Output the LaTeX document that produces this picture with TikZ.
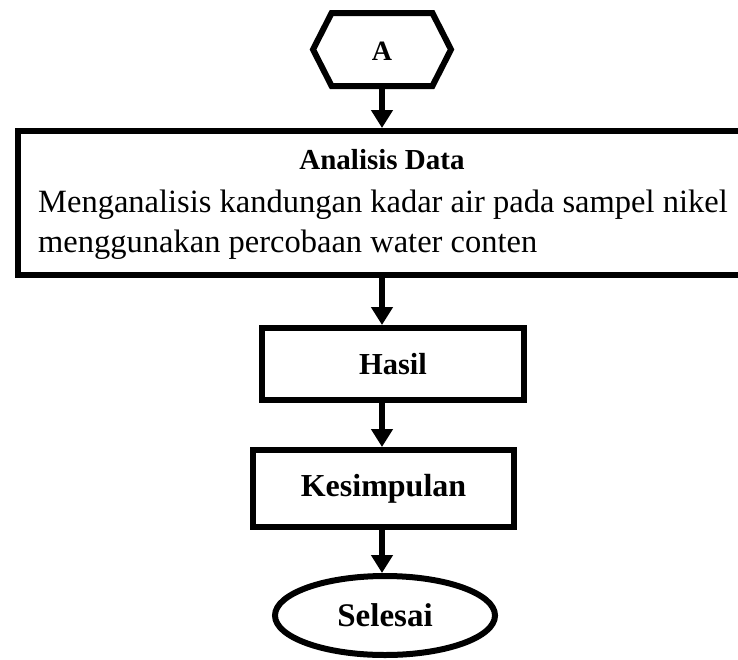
\documentclass[tikz,border=0pt]{standalone}
\usepackage{fontspec}
\setmainfont{Liberation Serif}
\usetikzlibrary{shapes.geometric,shapes.symbols,arrows.meta}
\begin{document}
\begin{tikzpicture}[x=1pt,y=-1pt,
  box/.style={draw=black,line width=6pt,rectangle,inner sep=0pt},
  flow/.style={line width=6pt,-{Triangle[length=18pt,width=21pt]}}]
\useasboundingbox (0,0) rectangle (738,659);
\node[draw=black,line width=6pt,signal,signal to=east and west,signal pointer angle=126,minimum width=138pt,minimum height=73pt,inner sep=0pt] (a) at (382,49.5) {};
\node[font=\fontsize{28}{30}\selectfont\bfseries] (at) at (382,51) {A};
\node[box,minimum width=740pt,minimum height=144pt,anchor=north west] (ana) at (15,128) {};
\node[font=\fontsize{29}{32}\selectfont\bfseries,anchor=base] (anat) at (382,169) {Analisis Data};
\node[font=\fontsize{32.5}{40}\selectfont,anchor=base west,inner sep=0pt] (l1) at (38,212) {Menganalisis kandungan kadar air pada sampel nikel};
\node[font=\fontsize{32.5}{40}\selectfont,anchor=base west,inner sep=0pt] (l2) at (38,252) {menggunakan percobaan water conten};
\node[box,minimum width=262pt,minimum height=72pt,font=\fontsize{30.5}{32}\selectfont\bfseries] (h) at (393,364) {Hasil};
\node[box,minimum width=261pt,minimum height=77pt,font=\fontsize{32}{36}\selectfont\bfseries] (k) at (383.5,488.5) {Kesimpulan};
\node[draw=black,line width=6pt,ellipse,minimum width=220pt,minimum height=79pt,inner sep=0pt,font=\fontsize{33}{36}\selectfont\bfseries] (s) at (385,615.5) {Selesai};
\draw[flow] (a.south) -- (a.south |- ana.north);
\draw[flow] (382,272) coordinate (c1) -- (c1 |- h.north);
\draw[flow] (382,400) coordinate (c2) -- (c2 |- k.north);
\draw[flow] (382,527) coordinate (c3) -- (c3 |- s.north);
\end{tikzpicture}
\end{document}
